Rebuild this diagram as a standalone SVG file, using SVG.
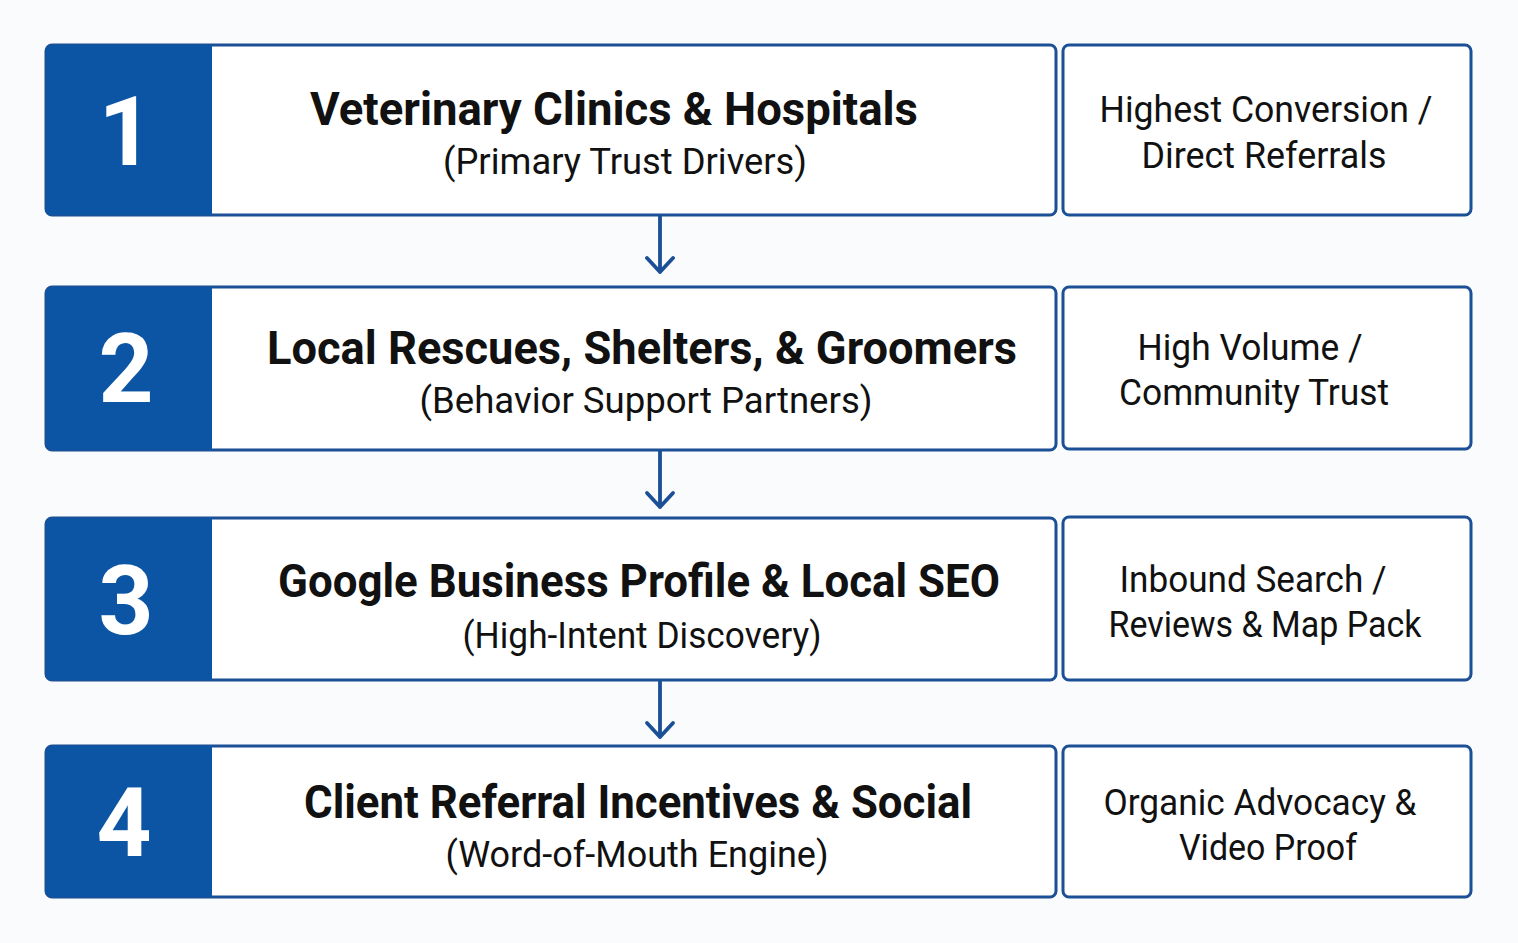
<svg xmlns="http://www.w3.org/2000/svg" width="1518" height="943" viewBox="0 0 1518 943">
<defs>
<style>
.bg{fill:#fafbfc}
.box{fill:#ffffff;stroke:#1b4f96;stroke-width:3}
.blk{fill:#0b55a4}
.num{font-family:Roboto,"Liberation Sans",sans-serif;font-weight:700;font-size:96px;fill:#ffffff;text-anchor:middle}
.ttl{font-family:Roboto,"Liberation Sans",sans-serif;font-weight:700;font-size:46px;fill:#111111;text-anchor:middle}
.sub{font-family:Roboto,"Liberation Sans",sans-serif;font-size:37px;fill:#111111;text-anchor:middle}
.rt{font-family:Roboto,"Liberation Sans",sans-serif;font-size:37px;fill:#111111;text-anchor:middle}
.con{stroke:#1b4f96;stroke-width:3.8;fill:none;stroke-linecap:round;stroke-linejoin:round}
</style>
</defs>
<rect class="bg" x="0" y="0" width="1518" height="943"/>
<g id="connectors">
<path class="con" d="M660 216 V272 M647 258 L660 272 L673 258"/>
<path class="con" d="M660 451 V507 M647 493 L660 507 L673 493"/>
<path class="con" d="M660 681 V737 M647 723 L660 737 L673 723"/>
</g>
<g id="node1">
<rect class="box" x="46" y="45" width="1010" height="170" rx="6"/>
<path class="blk" d="M52 45 H212 V215 H52 A6 6 0 0 1 46 209 V51 A6 6 0 0 1 52 45 Z"/>
<text class="num" x="126" y="165">1</text>
<text class="ttl" x="614" y="125" textLength="608" lengthAdjust="spacingAndGlyphs">Veterinary Clinics &amp; Hospitals</text>
<text class="sub" x="625" y="174" textLength="364" lengthAdjust="spacingAndGlyphs">(Primary Trust Drivers)</text>
</g>
<g id="node1r">
<rect class="box" x="1063" y="45" width="408" height="170" rx="6"/>
<text class="rt" x="1266" y="122" textLength="333" lengthAdjust="spacingAndGlyphs">Highest Conversion /</text>
<text class="rt" x="1264" y="168" textLength="245" lengthAdjust="spacingAndGlyphs">Direct Referrals</text>
</g>
<g id="node2">
<rect class="box" x="46" y="287" width="1010" height="163" rx="6"/>
<path class="blk" d="M52 287 H212 V450 H52 A6 6 0 0 1 46 444 V293 A6 6 0 0 1 52 287 Z"/>
<text class="num" x="126" y="402">2</text>
<text class="ttl" x="642" y="364" textLength="750" lengthAdjust="spacingAndGlyphs">Local Rescues, Shelters, &amp; Groomers</text>
<text class="sub" x="646" y="413" textLength="453" lengthAdjust="spacingAndGlyphs">(Behavior Support Partners)</text>
</g>
<g id="node2r">
<rect class="box" x="1063" y="287" width="408" height="162" rx="6"/>
<text class="rt" x="1250" y="360" textLength="225" lengthAdjust="spacingAndGlyphs">High Volume /</text>
<text class="rt" x="1254" y="405" textLength="270" lengthAdjust="spacingAndGlyphs">Community Trust</text>
</g>
<g id="node3">
<rect class="box" x="46" y="518" width="1010" height="162" rx="6"/>
<path class="blk" d="M52 518 H212 V680 H52 A6 6 0 0 1 46 674 V524 A6 6 0 0 1 52 518 Z"/>
<text class="num" x="126" y="634">3</text>
<text class="ttl" x="639" y="597" textLength="722" lengthAdjust="spacingAndGlyphs">Google Business Profile &amp; Local SEO</text>
<text class="sub" x="642" y="648" textLength="359" lengthAdjust="spacingAndGlyphs">(High-Intent Discovery)</text>
</g>
<g id="node3r">
<rect class="box" x="1063" y="517" width="408" height="163" rx="6"/>
<text class="rt" x="1253" y="592" textLength="267" lengthAdjust="spacingAndGlyphs">Inbound Search /</text>
<text class="rt" x="1265" y="637" textLength="313" lengthAdjust="spacingAndGlyphs">Reviews &amp; Map Pack</text>
</g>
<g id="node4">
<rect class="box" x="46" y="746" width="1010" height="151" rx="6"/>
<path class="blk" d="M52 746 H212 V897 H52 A6 6 0 0 1 46 891 V752 A6 6 0 0 1 52 746 Z"/>
<text class="num" x="124" y="856">4</text>
<text class="ttl" x="638" y="818" textLength="668" lengthAdjust="spacingAndGlyphs">Client Referral Incentives &amp; Social</text>
<text class="sub" x="637" y="867" textLength="383" lengthAdjust="spacingAndGlyphs">(Word-of-Mouth Engine)</text>
</g>
<g id="node4r">
<rect class="box" x="1063" y="746" width="408" height="151" rx="6"/>
<text class="rt" x="1260" y="815" textLength="313" lengthAdjust="spacingAndGlyphs">Organic Advocacy &amp;</text>
<text class="rt" x="1268" y="860" textLength="178" lengthAdjust="spacingAndGlyphs">Video Proof</text>
</g>
</svg>
